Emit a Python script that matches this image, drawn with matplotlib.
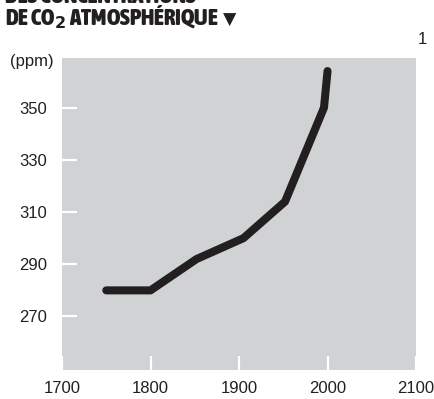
import matplotlib
matplotlib.use("Agg")
import matplotlib.pyplot as plt
from matplotlib import font_manager
from matplotlib.font_manager import FontProperties

# CO2 atmospheric concentration (ppm)
years = [1750, 1800, 1852, 1905, 1952, 1996, 2000]
co2_ppm = [280, 280, 292, 300, 314, 350, 364]

x_ticks = [1700, 1800, 1900, 2000, 2100]
y_ticks = [270, 290, 310, 330, 350]


def is_bold(f):
    w = f.weight
    if isinstance(w, str):
        return w in ("bold", "heavy", "extra bold", "black", "semibold", "demibold")
    return w >= 600


# look for a bold condensed face for the headline
cands = [f for f in font_manager.fontManager.ttflist
         if ("Narrow" in f.name or "Condensed" in f.name) and is_bold(f)
         and f.style == "normal"]
cands.sort(key=lambda f: (0 if "Liberation" in f.name else 1, f.name))
if cands:
    title_fp = FontProperties(fname=cands[0].fname, size=16.5)
else:
    title_fp = FontProperties(family="Liberation Sans", weight="bold", size=12)

plt.rcParams["font.family"] = ["Liberation Sans", "DejaVu Sans"]
plt.rcParams["mathtext.fontset"] = "custom"
plt.rcParams["mathtext.rm"] = "Liberation Sans:bold"
plt.rcParams["mathtext.bf"] = "Liberation Sans:bold"

fig = plt.figure(figsize=(4.34, 3.99), dpi=100)
ax = fig.add_axes([0.1429, 0.0727, 0.8157, 0.7819])
ax.set_facecolor("#d1d2d4")
for s in ax.spines.values():
    s.set_visible(False)

ax.plot(years, co2_ppm, color="#231f20", lw=5.8, solid_capstyle="round",
        solid_joinstyle="round")

ax.set_xlim(1700, 2100)
ax.set_ylim(249.5, 369)

ax.set_yticks(y_ticks)
ax.tick_params(axis="y", direction="in", length=11, width=1.6, color="white",
               labelsize=12, pad=11, labelcolor="#231f20")
ax.set_xticks(x_ticks)
ax.tick_params(axis="x", direction="in", length=10, width=1.6, color="white",
               labelsize=12, pad=8, labelcolor="#231f20")
for t in ax.xaxis.get_major_ticks():
    if t.get_loc() in (1700, 2100):
        t.tick1line.set_visible(False)

fig.text(0.023, 0.845, "(ppm)", fontsize=12, color="#231f20", va="center")
fig.text(0.985, 0.9, "1", fontsize=12, color="#231f20", ha="right", va="center")

fig.text(0.012, 0.992, "DES CONCENTRATIONS", fontproperties=title_fp,
         color="#231f20", va="baseline")
t2 = fig.text(0.012, 0.937, "DE CO$\\mathbf{_2}$ ATMOSPHÉRIQUE", fontproperties=title_fp,
              color="#231f20", va="baseline")

# the triangle glyph goes after the second headline line, in DejaVu Sans
fig.canvas.draw()
bb = t2.get_window_extent()
x_tri = (bb.x1 + 4) / fig.bbox.width
fig.text(x_tri, 0.937, "▼", family="DejaVu Sans", fontsize=12.5,
         color="#231f20", va="baseline")

fig.savefig("out.png", dpi=100)
